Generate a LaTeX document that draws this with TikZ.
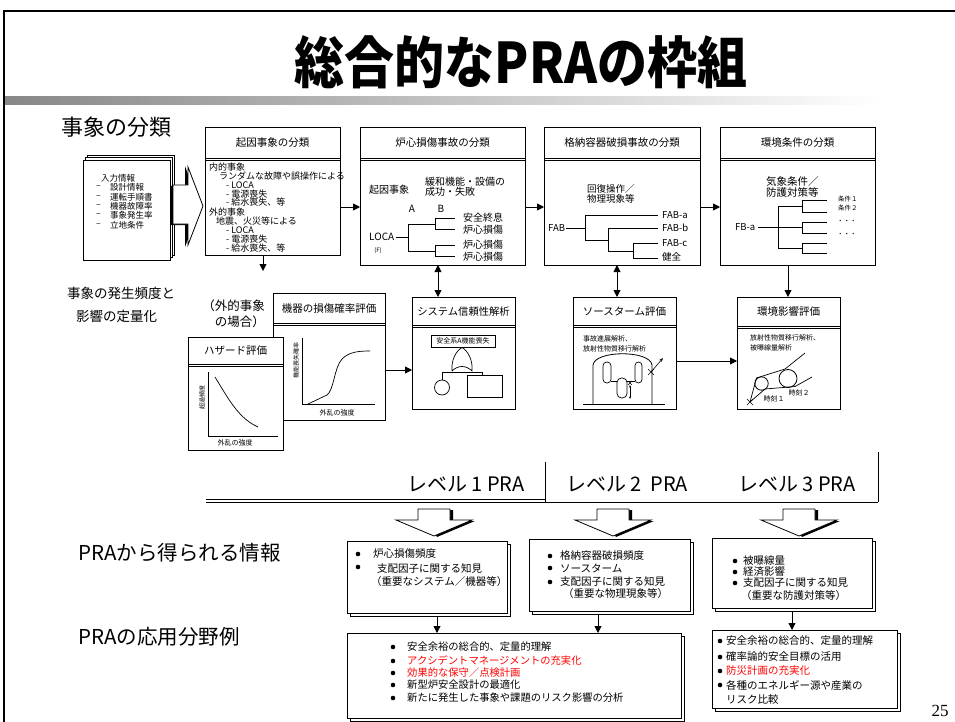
\documentclass[tikz,border=0pt]{standalone}
\usepackage{fontspec}
\setmainfont{Noto Sans CJK JP}
\newfontfamily\pagenumfont{Liberation Serif}
\usetikzlibrary{arrows.meta}
\definecolor{alert}{RGB}{255,0,0}
\newcommand\setfs[1]{\fontsize{#1}{#1}\selectfont}
% box with a header strip: name, x, y, width, height, header depth, font size, header text
\newcommand\headbox[8]{%
  \node[box, minimum width=#4, minimum height=#5] (#1) at (#2,#3) {};
  \draw[line width=0.8pt] (#2,#3+#6) -- ++(#4,0);
  \draw[line width=0.8pt] (#2,#3+#6+2.5) -- ++(#4,0);
  \node[font=\setfs{#7}, inner sep=0pt] (#1-head) at (#2+#4/2,#3+#6/2+0.5) {#8};}
% box with a second sheet peeking out behind it: name, x, y, width, height
\newcommand\stackbox[5]{%
  \draw[line width=0.8pt, fill=white] (#2+3,#3+3) rectangle ++(#4,#5);
  \node[box, minimum width=#4, minimum height=#5] (#1) at (#2,#3) {};}
\begin{document}
\begin{tikzpicture}[x=1pt,y=-1pt,
  box/.style={draw, line width=0.9pt, fill=white, inner sep=0pt, outer sep=0pt, anchor=north west},
  arr/.style={line width=0.9pt, -{Triangle[length=7pt,width=7pt]}},
  biarr/.style={line width=0.9pt, {Triangle[length=7pt,width=7pt]}-{Triangle[length=7pt,width=7pt]}},
  lbl/.style={inner sep=0pt, anchor=west},
  tree/.style={line width=0.8pt},
  blockdown/.pic={
    \fill (-13,1) -- (19,1) -- (19,12) -- (41,12) -- (3,28) -- cycle;
    \draw[line width=0.8pt, fill=white] (-16,0) -- (16,0) -- (16,11) -- (38,11) -- (0,27) -- (-38,11) -- (-16,11) -- cycle;},
  blockright/.pic={
    \fill (-3,19) -- (12,19) -- (12,-1) -- (27,40) -- (12,80) -- (12,58) -- (-3,58) -- cycle;
    \draw[line width=0.8pt, fill=white] (0,18) -- (15,18) -- (15,0) -- (30,39) -- (15,78) -- (15,57) -- (0,57) -- cycle;}
]
\useasboundingbox (0,0) rectangle (955,722);

% slide frame, title and rule
\draw[line width=1.2pt] (4,722) -- (4,11) -- (955,11);
\shade[left color={rgb,255:red,135;green,135;blue,135}, right color=white] (5,97) rectangle (880,105);
\node[inner sep=0pt] (title) at (521,62) {\scalebox{1}[1.12]{\setfs{50}\bfseries 総合的なPRAの枠組}};

% section labels
\node[lbl, font=\setfs{22}] (sec1) at (61,127) {事象の分類};
\node[lbl, font=\setfs{13.5}] (sec2) at (67,293) {事象の発生頻度と};
\node[lbl, font=\setfs{13.5}] (sec3) at (76,316) {影響の定量化};
\node[lbl, font=\setfs{20.5}] (sec4) at (78,553) {PRAから得られる情報};
\node[lbl, font=\setfs{20.5}] (sec5) at (78,637) {PRAの応用分野例};

% input sheets
\draw[line width=0.7pt, fill=white] (87,155) rectangle (174,255);
\draw[line width=0.7pt, fill=white] (85,157.5) rectangle (172,257.5);
\node[box, line width=0.8pt, minimum width=87, minimum height=100] (input) at (83,160) {};
\node[lbl, font=\setfs{8.5}] (in0) at (101,178) {入力情報};
\foreach \t [count=\i] in {設計情報,運転手順書,機器故障率,事象発生率,立地条件} {
  \node[lbl, font=\setfs{8.5}] (in\i) at (110,178+9.4*\i) {\t};
  \node[lbl, font=\setfs{8.5}] (dash\i) at (96,178+9.4*\i) {–};
}
\pic at (173,167) {blockright};

% top row: classification boxes
\headbox{b1}{205}{127}{135}{128}{31}{10.5}{起因事象の分類}
\headbox{b2}{360}{127}{165}{138}{31}{10.5}{炉心損傷事故の分類}
\headbox{b3}{544}{127}{156}{138}{31}{10.5}{格納容器破損事故の分類}
\headbox{b4}{720}{127}{155}{138}{31}{10.5}{環境条件の分類}

\foreach \x/\y/\t [count=\i] in {209/167/内的事象, 219/176/ランダムな故障や誤操作による,
    226/185/- LOCA, 226/194/- 電源喪失, 226/202/- 給水喪失、等, 209/212/外的事象,
    216/221/地震、火災等による, 226/230/- LOCA, 226/239/- 電源喪失, 226/248/- 給水喪失、等}
  \node[lbl, font=\setfs{9}] (b1t\i) at (\x,\y) {\t};

% core damage event tree
\node[lbl, font=\setfs{10}] (ie) at (369,190) {起因事象};
\node[lbl, font=\setfs{10}, align=left] (mit) at (425,186.5) {緩和機能・設備の\\[-0.5pt]成功・失敗};
\node[font=\setfs{10}, inner sep=0pt] (hA) at (412,209) {A};
\node[font=\setfs{10}, inner sep=0pt] (hB) at (441,209) {B};
\node[lbl, font=\setfs{10}] (loca) at (369,237) {LOCA};
\node[font=\setfs{6}, inner sep=0pt] (locaf) at (378,251) {(F)};
\draw[tree] (loca.east) ++(2,0) -- (408,237);
\draw[tree] (408,224) -- (408,251) (408,224) -- (435,224) (408,251) -- (435,251)
  (435,218) -- (435,229) (435,245) -- (435,256)
  (435,218) -- (455,218) (435,229) -- (455,229) (435,245) -- (455,245) (435,256) -- (455,256);
\foreach \y/\t [count=\i] in {218/安全終息, 230/炉心損傷, 245/炉心損傷, 257/炉心損傷}
  \node[lbl, font=\setfs{10}] (cd\i) at (463,\y) {\t};

% containment failure tree
\node[lbl, font=\setfs{9.5}, align=left] (rec) at (587,194) {回復操作／\\[1pt]物理現象等};
\node[lbl, font=\setfs{9.5}] (fab) at (548,228) {FAB};
\draw[tree] (fab.east) ++(1,0) -- (585,228);
\draw[tree] (585,215) -- (585,240) (585,215) -- (658,215) (585,240) -- (608,240)
  (608,228) -- (608,251) (608,228) -- (658,228) (608,251) -- (633,251)
  (633,243) -- (633,258) (633,243) -- (658,243) (633,258) -- (658,258);
\foreach \y/\t [count=\i] in {215/FAB-a, 228/FAB-b, 243/FAB-c, 257/健全}
  \node[lbl, font=\setfs{9.5}] (cf\i) at (662,\y) {\t};

% environmental condition tree
\node[lbl, font=\setfs{10.5}, align=left] (met) at (766,187) {気象条件／\\[1pt]防護対策等};
\node[lbl, font=\setfs{9.5}] (fba) at (735,227) {FB-a};
\draw[tree] (fba.east) ++(2,0) -- (778,227);
\draw[tree] (778,206) -- (778,248);
\foreach \m/\a/\b in {206/200/212, 227/222/233, 248/243/253}
  \draw[tree] (778,\m) -- (802,\m) (802,\a) -- (802,\b) (802,\a) -- (827,\a) (802,\b) -- (827,\b);
\node[lbl, font=\setfs{6.5}] (ec1) at (838,199) {条件１};
\node[lbl, font=\setfs{6.5}] (ec2) at (838,208) {条件２};
\node[lbl, font=\setfs{6.5}] (ec3) at (837,222) {・・・};
\node[lbl, font=\setfs{6.5}] (ec4) at (837,235) {・・・};

% middle row
\node[font=\fontsize{12.5}{15.5}\selectfont, align=right, anchor=north east, inner sep=0pt] (gai) at (265,300) {（外的事象\\の場合）};
\headbox{kiki}{273}{293}{112}{127}{30}{10.5}{機器の損傷確率評価}
\draw[line width=0.7pt] (302,338) -- (302,404) -- (375,404);
\draw[line width=0.7pt] (308,404) -- (327,395) .. controls (334,390) and (334,368) .. (342,359) .. controls (349,352) and (358,351) .. (370,351);
\node[font=\setfs{6}, rotate=90, inner sep=0pt] (kiy) at (296,360) {機能喪失確率};
\node[font=\setfs{7}, inner sep=0pt] (kix) at (337,413) {外乱の強度};

\headbox{haz}{188}{337}{95}{113}{27}{10.5}{ハザード評価}
\draw[line width=0.7pt] (208,372) -- (208,436) -- (278,436);
\draw[line width=0.7pt] (215,377) .. controls (228,398) and (238,418) .. (258,427);
\node[font=\setfs{6}, rotate=90, inner sep=0pt] (hzy) at (202,397) {超過頻度};
\node[font=\setfs{7}, inner sep=0pt] (hzx) at (235,443) {外乱の強度};

\headbox{sys}{412}{297}{103}{112}{28}{10.3}{システム信頼性解析}
\node[draw, line width=0.7pt, font=\setfs{7}, inner sep=1.5pt, minimum width=64, minimum height=12] (top) at (463,341) {安全系A機能喪失};
\draw[line width=0.7pt] (452,371) .. controls (451,360) and (456,351) .. (462,347.5)
  .. controls (468,351) and (473,360) .. (472,371) .. controls (466,365) and (458,365) .. (452,371);
\draw[line width=0.7pt] (442,380) -- (442,372) -- (482,372) -- (482,375);
\draw[line width=0.7pt] (442,387.5) circle[radius=7.5pt];
\draw[line width=0.7pt] (467,375) rectangle (502,397);

\headbox{src}{573}{297}{103}{112}{28}{10.5}{ソースターム評価}
\node[lbl, font=\setfs{7}, align=left] (srct) at (583,343.5) {事故進展解析、\\[3pt]放射性物質移行解析};
\draw[line width=0.8pt] (593,404) -- (593,365) .. controls (595,350) and (650,350) .. (652,365) -- (652,404);
\draw[line width=0.8pt] (583,404) -- (665,404);
\draw[line width=0.7pt, rounded corners=3.8pt] (603,362) rectangle (611,383);
\draw[line width=0.7pt, rounded corners=4.5pt] (617,378) rectangle (627,398);
\draw[line width=0.7pt, rounded corners=3.5pt] (635,362) rectangle (642,383);
\draw[line width=0.7pt] (611,381) -- (617,381) (627,381) -- (635,381);
\draw[line width=0.5pt, {Stealth[length=2.5pt,width=2pt]}-{Stealth[length=2.5pt,width=2pt]}] (630,385) -- (630,399);
\draw[line width=0.5pt] (628,381) -- (632,385) (632,381) -- (628,385);
\draw[line width=0.6pt, -{Stealth[length=4pt,width=3pt]}] (651,372) -- (663,358);
\draw[line width=0.6pt] (648,369) -- (654,375) (654,369) -- (648,375);

\headbox{env}{737}{297}{103}{112}{29}{10.5}{環境影響評価}
\node[lbl, font=\setfs{7}, align=left] (envt) at (750,343) {放射性物質移行解析、\\[3pt]被曝線量解析};
\draw[line width=0.8pt] (761.5,383.5) circle[radius=6.7pt];
\draw[line width=0.8pt] (788,378.5) circle[radius=9pt];
\draw[line width=0.7pt] (750,402) -- (756.5,378) -- (785,369) -- (805,353);
\draw[line width=0.7pt] (750,402) -- (765,389) -- (795,386.5) -- (812,377);
\draw[line width=0.6pt] (747,399) -- (753,405) (753,399) -- (747,405);
\node[font=\setfs{7}, inner sep=0pt] (t1) at (774,398.5) {時刻１};
\node[font=\setfs{7}, inner sep=0pt] (t2) at (799,393) {時刻２};

% connectors of the upper part
\coordinate (yrow) at (0,207);
\draw[arr] (b1.east |- yrow) -- (b2.west |- yrow);
\draw[arr] (b2.east |- yrow) -- (b3.west |- yrow);
\draw[arr] (b3.east |- yrow) -- (b4.west |- yrow);
\coordinate (gx) at (263,271);
\draw[arr] (b1.south -| gx) -- (gx);
\coordinate (x2) at (438,0);
\draw[biarr] (b2.south -| x2) -- (sys.north -| x2);
\coordinate (x3) at (617,0);
\draw[biarr] (b3.south -| x3) -- (src.north -| x3);
\coordinate (x4) at (788,0);
\draw[arr] (b4.south -| x4) -- (env.north -| x4);
\coordinate (y5) at (0,370);
\draw[arr] (kiki.east |- y5) -- (sys.west |- y5);
\coordinate (y6) at (0,361);
\draw[arr] (src.east |- y6) -- (env.west |- y6);

% PRA levels
\node[font=\setfs{20}, inner sep=0pt] (lv1) at (466,484) {レベル 1 PRA};
\node[font=\setfs{20}, inner sep=0pt] (lv2) at (627,484) {レベル 2\ \ PRA};
\node[font=\setfs{20}, inner sep=0pt] (lv3) at (797,484) {レベル 3 PRA};
\draw[line width=0.8pt] (206,499) -- (545,499);
\draw[line width=0.8pt] (206,502) -- (878,502);
\draw[line width=0.8pt] (545,462) -- (545,502);
\draw[line width=0.8pt] (878,452) -- (878,502);
\pic at (434,509) {blockdown};
\pic at (613,509) {blockdown};
\pic at (799,509) {blockdown};

% results of each level
\stackbox{L1}{347}{541}{160}{72}
\stackbox{L2}{529}{539}{161}{72}
\stackbox{L3}{712}{538}{160}{70}
\fill (358,554) circle[radius=2.3pt];
\fill (358,567) circle[radius=2.3pt];
\node[lbl, font=\setfs{10.5}] (L1a) at (373,554) {炉心損傷頻度};
\node[lbl, font=\setfs{10.5}] (L1b) at (377,569) {支配因子に関する知見};
\node[lbl, font=\setfs{10.5}] (L1c) at (371,582) {（重要なシステム／機器等）};
\foreach \y in {556,568,582} \fill (550,\y) circle[radius=2.3pt];
\node[lbl, font=\setfs{10.5}] (L2a) at (560,556) {格納容器破損頻度};
\node[lbl, font=\setfs{10.5}] (L2b) at (560,568) {ソースターム};
\node[lbl, font=\setfs{10.5}] (L2c) at (560,582) {支配因子に関する知見};
\node[lbl, font=\setfs{10.5}] (L2d) at (563,594) {（重要な物理現象等）};
\foreach \y in {561,572,583} \fill (735,\y) circle[radius=2.3pt];
\node[lbl, font=\setfs{10.5}] (L3a) at (743,561) {被曝線量};
\node[lbl, font=\setfs{10.5}] (L3b) at (743,572) {経済影響};
\node[lbl, font=\setfs{10.5}] (L3c) at (743,583) {支配因子に関する知見};
\node[lbl, font=\setfs{10.5}] (L3d) at (741,596) {（重要な防護対策等）};

% application fields
\stackbox{B1}{347}{633}{334}{85}
\stackbox{B2}{712}{630}{185}{78}
\coordinate (x7) at (437,0);
\draw[arr] ([yshift=-3pt]L1.south -| x7) -- (B1.north -| x7);
\coordinate (x8) at (598,0);
\draw[arr] ([yshift=-3pt]L2.south -| x8) -- (B1.north -| x8);
\coordinate (x9) at (792,0);
\draw[arr] ([yshift=-3pt]L3.south -| x9) -- (B2.north -| x9);

\foreach \y in {647,661,673,685,698} \fill (393,\y) circle[radius=2.3pt];
\node[lbl, font=\setfs{10.3}] (B1a) at (407,647) {安全余裕の総合的、定量的理解};
\node[lbl, font=\setfs{10.3}, text=alert] (B1b) at (407,661) {アクシデントマネージメントの充実化};
\node[lbl, font=\setfs{10.3}, text=alert] (B1c) at (407,673) {効果的な保守／点検計画};
\node[lbl, font=\setfs{10.3}] (B1d) at (407,685) {新型炉安全設計の最適化};
\node[lbl, font=\setfs{10.3}] (B1e) at (407,698) {新たに発生した事象や課題のリスク影響の分析};

\foreach \y in {641,657,671,685} \fill (720,\y) circle[radius=2.3pt];
\node[lbl, font=\setfs{10.5}] (B2a) at (726,641) {安全余裕の総合的、定量的理解};
\node[lbl, font=\setfs{10.5}] (B2b) at (726,657) {確率論的安全目標の活用};
\node[lbl, font=\setfs{10.5}, text=alert] (B2c) at (726,671) {防災計画の充実化};
\node[lbl, font=\setfs{10.5}] (B2d) at (726,685) {各種のエネルギー源や産業の};
\node[lbl, font=\setfs{10.5}] (B2e) at (726,700) {リスク比較};

\node[font=\pagenumfont\setfs{17}, inner sep=0pt] (pgno) at (940,711) {25};
\end{tikzpicture}
\end{document}
